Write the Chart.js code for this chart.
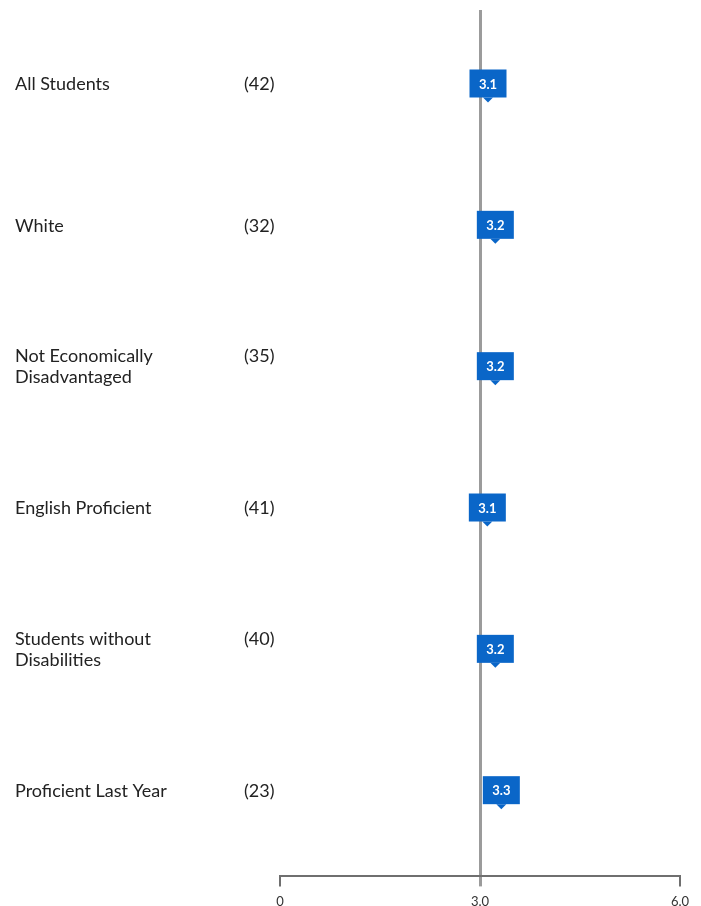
<!DOCTYPE html>
<html>
<head>
<meta charset="utf-8">
<script src="https://cdn.jsdelivr.net/npm/chart.js@4.4.1/dist/chart.umd.min.js"></script>
<style>
  html, body { margin: 0; padding: 0; background: #fff; overflow: hidden; }
  #grafico { display: block; }
</style>
</head>
<body>
<canvas id="grafico" width="701" height="918"></canvas>
<script>
// dados do grafico
const grupos = ['All Students', 'White', 'Not Economically\nDisadvantaged', 'English Proficient', 'Students without\nDisabilities', 'Proficient Last Year'];
const contagens = ['(42)', '(32)', '(35)', '(41)', '(40)', '(23)'];
const notas = [3.12, 3.23, 3.23, 3.11, 3.23, 3.32];
const rotulosNota = ['3.1', '3.2', '3.2', '3.1', '3.2', '3.3'];
const ticksX = [0, 3, 6];

const AZUL = '#0a66c8';
const CINZA_LINHA = '#9b9b9b';
const CINZA_EIXO = '#6f6f6f';
const FONTE = 'Lato, "Open Sans", sans-serif';

// --- rótulos à esquerda (grupo + contagem) ---
const pluginRotulos = {
    id: 'rotulos',
    afterDraw(chart) {
        const ctx = chart.ctx;
        const y = chart.scales.y;
        ctx.save();
        ctx.font = '18px ' + FONTE;
        ctx.fillStyle = '#222';
        ctx.textBaseline = 'middle';
        ctx.textAlign = 'left';
        grupos.forEach((g, i) => {
            const py = y.getPixelForValue(i) + 1;
            const linhas = g.split('\n');
            const topo = py - (linhas.length - 1) * 10.5;
            linhas.forEach((l, k) => ctx.fillText(l, 15, topo + k * 21));
            ctx.fillText(contagens[i], 244, topo);
        });
        ctx.restore();
    }
};

// --- marcadores tipo balão ---
const pluginBaloes = {
    id: 'baloes',
    afterDatasetsDraw(chart) {
        const ctx = chart.ctx;
        const meta = chart.getDatasetMeta(0);
        ctx.save();
        meta.data.forEach((pt, i) => {
            const w = 37, h = 28;
            const x0 = pt.x - w / 2, y0 = pt.y - h / 2;
            ctx.fillStyle = AZUL;
            ctx.fillRect(x0, y0, w, h);
            ctx.beginPath();
            ctx.moveTo(pt.x - 5, y0 + h);
            ctx.lineTo(pt.x + 5, y0 + h);
            ctx.lineTo(pt.x, y0 + h + 5);
            ctx.closePath();
            ctx.fill();
            ctx.fillStyle = '#fff';
            ctx.font = 'bold 13px ' + FONTE;
            ctx.textAlign = 'center';
            ctx.textBaseline = 'middle';
            ctx.fillText(rotulosNota[i], pt.x, pt.y + 1);
        });
        ctx.restore();
    }
};

const ctx = document.getElementById('grafico').getContext('2d');
const grafico = new Chart(ctx, {
    type: 'scatter',
    data: {
        datasets: [{
            data: notas.map((v, i) => ({ x: v, y: i })),
            pointRadius: 0,
            pointHoverRadius: 0
        }]
    },
    options: {
        responsive: false,
        animation: false,
        devicePixelRatio: 1,
        layout: { padding: { left: 280, right: 21, top: 10, bottom: 0 } },
        plugins: { legend: { display: false }, tooltip: { enabled: false } },
        scales: {
            x: {
                type: 'linear',
                min: 0,
                max: 6,
                afterBuildTicks: a => { a.ticks = ticksX.map(v => ({ value: v })); },
                border: { display: true, color: CINZA_EIXO, width: 2 },
                grid: {
                    drawOnChartArea: true,
                    color: c => c.tick && c.tick.value === 3 ? CINZA_LINHA : 'rgba(0,0,0,0)',
                    lineWidth: c => c.tick && c.tick.value === 3 ? 3 : 2,
                    tickColor: c => c.tick && c.tick.value === 3 ? CINZA_LINHA : CINZA_EIXO,
                    tickWidth: c => c.tick && c.tick.value === 3 ? 3 : 2,
                    tickLength: 10
                },
                ticks: {
                    color: '#333',
                    font: { family: FONTE, size: 13 },
                    padding: 8,
                    maxRotation: 0,
                    callback: v => v === 0 ? '0' : v.toFixed(1)
                }
            },
            y: {
                type: 'linear',
                reverse: true,
                min: -0.52,
                max: 5.61,
                display: false
            }
        }
    },
    plugins: [pluginBaloes, pluginRotulos]
});
</script>
</body>
</html>
